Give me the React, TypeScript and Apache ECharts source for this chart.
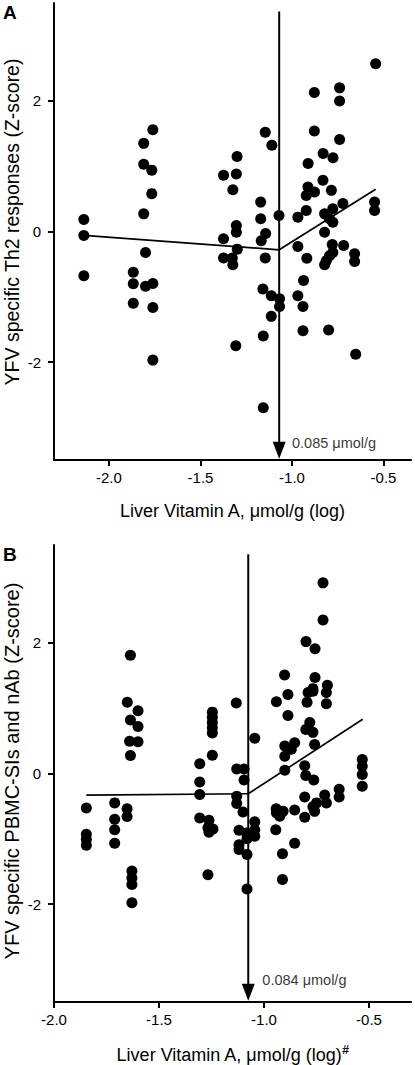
import React, { useEffect, useRef } from "react";
import * as echarts from "echarts";

// ---------- Panel A data ----------
const A_LEFT: number[][] = [
  [-2.137, 0.185], [-2.137, -0.06], [-2.137, -0.677],
  [-1.81, 1.35], [-1.76, 1.56], [-1.81, 1.03], [-1.766, 0.94], [-1.766, 0.58], [-1.81, 0.27],
  [-1.80, -0.32], [-1.867, -0.625], [-1.867, -0.80], [-1.80, -0.84], [-1.76, -0.795],
  [-1.867, -1.10], [-1.76, -1.165], [-1.76, -1.97],
];
const A_MID: number[][] = [
  [-1.374, 0.86], [-1.304, 0.88], [-1.30, 1.15], [-1.323, 0.64], [-1.146, 1.52], [-1.11, 1.32],
  [-1.171, 0.45], [-1.171, 0.195], [-1.071, 0.246], [-1.304, 0.092], [-1.304, -0.01],
  [-1.144, -0.03], [-1.168, -0.14], [-1.374, -0.11], [-1.299, -0.27], [-1.374, -0.405],
  [-1.326, -0.405], [-1.323, -0.51], [-1.146, -0.405], [-1.159, -0.88], [-1.113, -0.985],
  [-1.068, -1.03], [-1.068, -1.15], [-1.113, -1.30], [-1.157, -1.60], [-1.307, -1.75], [-1.157, -2.70],
];
const A_RIGHT: number[][] = [
  [-0.543, 2.57], [-0.878, 2.13], [-0.74, 2.20], [-0.74, 2.0], [-0.878, 1.54], [-0.74, 1.41],
  [-0.83, 1.195], [-0.776, 1.13], [-0.912, 1.04], [-0.831, 0.785], [-0.913, 0.68], [-0.877, 0.605],
  [-0.922, 0.55], [-0.785, 0.63], [-0.722, 0.43], [-0.922, 0.32], [-0.968, 0.22], [-0.777, 0.35],
  [-0.822, 0.27], [-0.795, 0.195], [-0.777, 0.14], [-0.822, -0.01], [-0.549, 0.45], [-0.549, 0.32],
  [-0.968, -0.23], [-0.78, -0.2], [-0.718, -0.215], [-0.919, -0.41], [-0.795, -0.37], [-0.813, -0.45],
  [-0.822, -0.51], [-0.777, -0.32], [-0.658, -0.34], [-0.658, -0.46], [-0.937, -0.75], [-0.968, -0.985],
  [-0.94, -1.15], [-0.94, -1.52], [-0.80, -1.51], [-0.652, -1.88],
];
const A_FIT_LEFT: number[][] = [[-2.137, -0.06], [-1.07, -0.28]];
const A_FIT_RIGHT: number[][] = [[-1.07, -0.28], [-0.543, 0.646]];
const A_CUT: number[][] = [[-1.07, 3.37], [-1.07, -3.35]];
const A_LABEL_POS: number[] = [-1.0, -3.24];
const A_LABEL = "0.085 μmol/g";

// ---------- Panel B data ----------
const B_LEFT: number[][] = [
  [-1.846, -0.53], [-1.846, -0.93], [-1.846, -1.01], [-1.846, -1.10],
  [-1.711, -0.45], [-1.711, -0.70], [-1.711, -0.86], [-1.711, -1.07],
  [-1.652, -0.54], [-1.652, -0.66],
  [-1.629, -1.495], [-1.629, -1.60], [-1.629, -1.70], [-1.629, -1.98],
  [-1.636, 1.81], [-1.651, 1.09], [-1.60, 0.96], [-1.636, 0.82], [-1.60, 0.72], [-1.64, 0.495],
  [-1.60, 0.485], [-1.636, 0.275],
];
const B_MID: number[][] = [
  [-1.246, 0.94], [-1.246, 0.86], [-1.246, 0.78], [-1.246, 0.70], [-1.246, 0.62], [-1.246, 0.28],
  [-1.306, 0.15], [-1.306, -0.13], [-1.306, -0.32], [-1.306, -0.68], [-1.262, -0.716], [-1.267, -0.83],
  [-1.243, -0.85], [-1.262, -0.90], [-1.267, -1.55],
  [-1.132, 1.08], [-1.13, 0.07], [-1.095, 0.07], [-1.095, -0.10], [-1.13, -0.35], [-1.13, -0.46],
  [-1.10, -0.59], [-1.044, 0.54], [-1.119, -0.87], [-1.119, -1.09], [-1.119, -1.165], [-1.081, -1.24],
  [-1.081, -1.0], [-1.044, -0.74], [-1.044, -0.86], [-1.044, -0.96], [-1.084, -0.91], [-1.081, -1.77],
];
const B_RIGHT: number[][] = [
  [-0.719, 2.92], [-0.719, 2.35], [-0.80, 2.02], [-0.757, 1.91], [-0.902, 1.51], [-0.757, 1.47],
  [-0.767, 1.30], [-0.698, 1.35], [-0.886, 1.21], [-0.941, 1.10], [-0.886, 0.89], [-0.79, 1.24],
  [-0.767, 1.26], [-0.795, 1.09], [-0.703, 1.24], [-0.703, 1.07],
  [-0.782, 0.78], [-0.801, 0.675], [-0.767, 0.63], [-0.759, 0.445], [-0.854, 0.47], [-0.901, 0.42],
  [-0.87, 0.37], [-0.901, 0.265], [-0.901, 0.05], [-0.806, 0.12], [-0.801, -0.03], [-0.763, -0.10],
  [-0.532, 0.215], [-0.532, 0.11], [-0.532, -0.015], [-0.532, -0.195], [-0.642, -0.24], [-0.642, -0.36],
  [-0.806, -0.36], [-0.75, -0.45], [-0.711, -0.33], [-0.703, -0.45], [-0.942, -0.54], [-0.854, -0.56],
  [-0.941, -0.60], [-0.909, -0.58], [-0.925, -0.655], [-0.944, -0.86], [-0.767, -0.51], [-0.759, -0.58],
  [-0.806, -0.67], [-0.854, -1.07], [-0.912, -1.23], [-0.912, -1.625],
];
const B_FIT_LEFT: number[][] = [[-1.846, -0.33], [-1.075, -0.31]];
const B_FIT_RIGHT: number[][] = [[-1.075, -0.31], [-0.53, 0.83]];
const B_CUT: number[][] = [[-1.075, 3.36], [-1.075, -3.35]];
const B_LABEL_POS: number[] = [-1.008, -3.16];
const B_LABEL = "0.084 μmol/g";

// ---------- Axis ticks / labels ----------
const X_TICKS: number[] = [-2.0, -1.5, -1.0, -0.5];
const Y_TICKS: number[] = [-2, 0, 2];
const A_X_RANGE: number[] = [-2.3, -0.35];
const B_X_RANGE: number[] = [-2.0, -0.3];
const Y_RANGE: number[] = [-3.5, 3.5];
const A_Y_NAME = "YFV specific Th2 responses (Z-score)";
const B_Y_NAME = "YFV specific PBMC-SIs and nAb (Z-score)";
const A_X_NAME = "Liver Vitamin A, μmol/g (log)";
const B_X_NAME = "Liver Vitamin A, μmol/g (log){sup|#}";

const FONT = "'Liberation Sans', Arial, Helvetica, sans-serif";
const BLACK = "#000";

function xAxisDef(gridIndex: number, range: number[], name: string) {
  return {
    type: "value",
    gridIndex,
    min: range[0],
    max: range[1],
    name,
    nameLocation: "middle",
    nameGap: 42,
    nameTextStyle: {
      fontFamily: FONT,
      fontSize: 18,
      color: BLACK,
      rich: {
        sup: { fontFamily: FONT, fontSize: 12, fontWeight: "bold", color: BLACK, padding: [0, 0, 10, 0] },
      },
    },
    axisLine: { show: true, onZero: false, lineStyle: { color: BLACK, width: 2 } },
    axisTick: { show: true, length: 6, lineStyle: { color: BLACK, width: 2 }, customValues: X_TICKS },
    axisLabel: {
      show: true,
      customValues: X_TICKS,
      margin: 10,
      fontFamily: FONT,
      fontSize: 15,
      color: BLACK,
      formatter: (v: number) => v.toFixed(1),
    },
    splitLine: { show: false },
  };
}

function yAxisDef(gridIndex: number) {
  return {
    type: "value",
    gridIndex,
    min: Y_RANGE[0],
    max: Y_RANGE[1],
    axisLine: { show: true, onZero: false, lineStyle: { color: BLACK, width: 2 } },
    axisTick: { show: true, length: 6, lineStyle: { color: BLACK, width: 2 }, customValues: Y_TICKS },
    axisLabel: {
      show: true,
      customValues: Y_TICKS,
      margin: 13,
      fontFamily: FONT,
      fontSize: 15,
      color: BLACK,
      formatter: (v: number) => String(v),
    },
    splitLine: { show: false },
  };
}

function panelSeries(idx: number, groups: number[][][], fitL: number[][], fitR: number[][], cut: number[][], labelPos: number[], label: string) {
  const s: any[] = [];
  groups.forEach((g) => {
    s.push({
      type: "scatter",
      xAxisIndex: idx,
      yAxisIndex: idx,
      data: g,
      symbol: "circle",
      symbolSize: 11,
      itemStyle: { color: BLACK, opacity: 1 },
      silent: true,
      z: 3,
    });
  });
  [fitL, fitR].forEach((f) => {
    s.push({
      type: "line",
      xAxisIndex: idx,
      yAxisIndex: idx,
      data: f,
      showSymbol: false,
      symbol: "none",
      lineStyle: { color: BLACK, width: 1.7 },
      silent: true,
      z: 4,
    });
  });
  s.push({
    type: "line",
    xAxisIndex: idx,
    yAxisIndex: idx,
    data: cut,
    showSymbol: false,
    symbol: "none",
    lineStyle: { color: BLACK, width: 2 },
    silent: true,
    z: 4,
  });
  s.push({
    type: "scatter",
    xAxisIndex: idx,
    yAxisIndex: idx,
    data: [cut[1]],
    symbol: "triangle",
    symbolRotate: 180,
    symbolSize: [13, 17],
    itemStyle: { color: BLACK, opacity: 1 },
    silent: true,
    z: 5,
  });
  s.push({
    type: "scatter",
    xAxisIndex: idx,
    yAxisIndex: idx,
    data: [labelPos],
    symbolSize: 0,
    itemStyle: { color: "transparent" },
    label: {
      show: true,
      position: "right",
      distance: 0,
      formatter: label,
      fontFamily: FONT,
      fontSize: 14.5,
      color: BLACK,
    },
    silent: true,
    z: 5,
  });
  return s;
}

export default function App() {
  const ref = useRef<HTMLDivElement>(null);
  useEffect(() => {
    if (!ref.current) return;
    const chart = echarts.init(ref.current, undefined, { renderer: "svg" });
    const option: any = {
      animation: false,
      backgroundColor: "#fff",
      textStyle: { fontFamily: FONT },
      grid: [
        { left: 54, top: 3, width: 357, height: 457, containLabel: false },
        { left: 54, top: 545, width: 357, height: 457, containLabel: false },
      ],
      xAxis: [xAxisDef(0, A_X_RANGE, A_X_NAME), xAxisDef(1, B_X_RANGE, B_X_NAME)],
      yAxis: [yAxisDef(0), yAxisDef(1)],
      graphic: [
        { type: "text", left: 3, top: 3, style: { text: "A", fontFamily: FONT, fontSize: 19, fontWeight: "bold", fill: BLACK } },
        { type: "text", left: 3, top: 545, style: { text: "B", fontFamily: FONT, fontSize: 19, fontWeight: "bold", fill: BLACK } },
        {
          type: "text", x: 12, y: 222, rotation: Math.PI / 2,
          style: { text: A_Y_NAME, fontFamily: FONT, fontSize: 19.5, fill: BLACK, align: "center", verticalAlign: "middle" },
        },
        {
          type: "text", x: 12, y: 771, rotation: Math.PI / 2,
          style: { text: B_Y_NAME, fontFamily: FONT, fontSize: 20, fill: BLACK, align: "center", verticalAlign: "middle" },
        },
      ],
      series: [
        ...panelSeries(0, [A_LEFT, A_MID, A_RIGHT], A_FIT_LEFT, A_FIT_RIGHT, A_CUT, A_LABEL_POS, A_LABEL),
        ...panelSeries(1, [B_LEFT, B_MID, B_RIGHT], B_FIT_LEFT, B_FIT_RIGHT, B_CUT, B_LABEL_POS, B_LABEL),
      ],
    };
    chart.setOption(option);
    return () => chart.dispose();
  }, []);
  return (
    <div
      ref={ref}
      style={{ position: "fixed", left: 0, top: 0, width: 415, height: 1065, background: "#fff" }}
    />
  );
}
